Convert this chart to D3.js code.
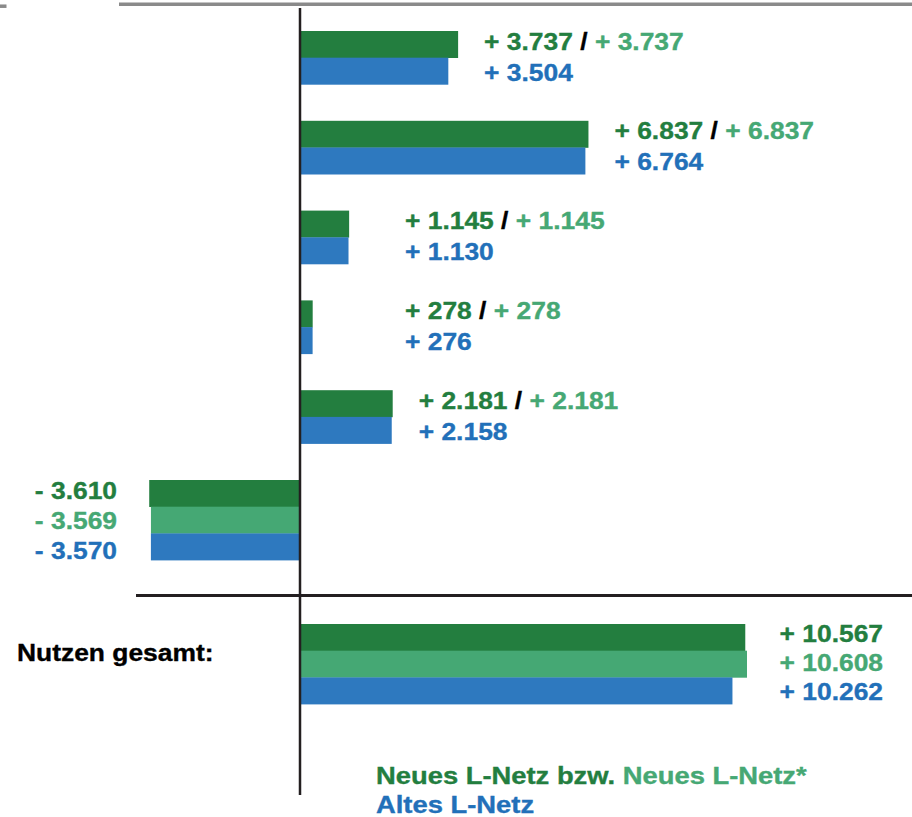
<!DOCTYPE html>
<html>
<head>
<meta charset="utf-8">
<script src="https://cdn.jsdelivr.net/npm/d3@7"></script>
<style>
html,body{margin:0;padding:0;background:#fff;}
svg{display:block;}
text{font-family:"Liberation Sans",Arial,Helvetica,sans-serif;font-weight:bold;}
</style>
</head>
<body>
<svg id="chart" width="912" height="817"></svg>
<script>
// ---- data ----
const categories = ["Nutzen 1", "Nutzen 2", "Nutzen 3", "Nutzen 4", "Nutzen 5", "Nutzen 6"];
const neuValues     = [3737, 6837, 1145, 278, 2181, -3610];
const neuStarValues = [3737, 6837, 1145, 278, 2181, -3569];
const altValues     = [3504, 6764, 1130, 276, 2158, -3570];
const totalLabel = "Nutzen gesamt:";
const totalNeu = 10567, totalNeuStar = 10608, totalAlt = 10262;
const legendNeu = "Neues L-Netz bzw. ";
const legendNeuStar = "Neues L-Netz*";
const legendAlt = "Altes L-Netz";

// ---- styles ----
const C = {
  neu: "#237e3f", neuStar: "#45a874", alt: "#2e79bf",
  neuText: "#237e3f", neuStarText: "#46a874", altText: "#2270b9",
  axis: "#231f20", top: "#8a8a8a"
};
const SX = 1.1;           // horizontal stretch of the labels
const FS = 24;
const barH = 26.7;
const rowGap = 30;

const svg = d3.select("#chart");
const loc = d3.formatLocale({decimal: ",", thousands: ".", grouping: [3], currency: ["", ""]});
const fmt = loc.format(",d");
const signed = v => (v >= 0 ? "+ " : "- ") + fmt(Math.abs(v));

// ---- scales ----
const x = d3.scaleLinear().domain([0, Math.max(totalNeu, totalNeuStar, totalAlt)]).range([301, 747]);
const y = d3.scalePoint().domain(categories).range([31, 480]);
const yTotal = d3.scalePoint().domain([totalLabel]).range([624, 624]);

// ---- frame lines ----
svg.append("line").attr("x1", 119).attr("x2", 912).attr("y1", 4.3).attr("y2", 4.3)
  .attr("stroke", C.top).attr("stroke-width", 3.5);
svg.append("line").attr("x1", 0).attr("x2", 6.5).attr("y1", 6.2).attr("y2", 6.2)
  .attr("stroke", C.top).attr("stroke-width", 3.5);

// ---- bars ----
function seriesFor(i) {
  const s = [{v: neuValues[i], c: C.neu, t: C.neuText}];
  if (neuStarValues[i] !== neuValues[i]) s.push({v: neuStarValues[i], c: C.neuStar, t: C.neuStarText});
  s.push({v: altValues[i], c: C.alt, t: C.altText});
  return s;
}

function label(sel) {
  return sel.attr("font-size", FS).attr("stroke-width", 0.35);
}

categories.forEach((cat, i) => {
  const top = y(cat);
  const s = seriesFor(i);
  const g = svg.append("g");
  g.selectAll("rect").data(s).join("rect")
    .attr("x", d => Math.min(x(0), x(d.v)))
    .attr("width", d => Math.abs(x(d.v) - x(0)))
    .attr("y", (d, j) => top + j * barH)
    .attr("height", barH + 0.3)
    .attr("fill", d => d.c);

  if (s.length === 2) {
    const lx = Math.max(x(Math.max(neuValues[i], altValues[i])) + 26, 405);
    const t1 = label(g.append("text"))
      .attr("transform", `translate(${lx},${top + 18.5}) scale(${SX},1)`);
    t1.append("tspan").attr("fill", C.neuText).attr("stroke", C.neuText).text(signed(neuValues[i]));
    t1.append("tspan").attr("fill", "#000").attr("stroke", "#000").text(" / ");
    t1.append("tspan").attr("fill", C.neuStarText).attr("stroke", C.neuStarText).text(signed(neuStarValues[i]));
    label(g.append("text"))
      .attr("transform", `translate(${lx},${top + 18.5 + rowGap + 1}) scale(${SX},1)`)
      .attr("fill", C.altText).attr("stroke", C.altText).text(signed(altValues[i]));
  } else {
    s.forEach((d, j) => {
      label(g.append("text"))
        .attr("transform", `translate(117,${top + 19 + j * rowGap}) scale(${SX},1)`)
        .attr("text-anchor", "end")
        .attr("fill", d.t).attr("stroke", d.t).text(signed(d.v));
    });
  }
});

// ---- separator ----
svg.append("line").attr("x1", 136).attr("x2", 912).attr("y1", 595.5).attr("y2", 595.5)
  .attr("stroke", C.axis).attr("stroke-width", 3);

// ---- total ----
const totals = [
  {v: totalNeu, c: C.neu, t: C.neuText},
  {v: totalNeuStar, c: C.neuStar, t: C.neuStarText},
  {v: totalAlt, c: C.alt, t: C.altText}
];
const tTop = yTotal(totalLabel);
const tg = svg.append("g");
tg.selectAll("rect").data(totals).join("rect")
  .attr("x", x(0)).attr("width", d => x(d.v) - x(0))
  .attr("y", (d, j) => tTop + j * barH).attr("height", barH + 0.3)
  .attr("fill", d => d.c);
totals.forEach((d, j) => {
  label(tg.append("text"))
    .attr("transform", `translate(883,${tTop + 18 + j * 29}) scale(${SX},1)`)
    .attr("text-anchor", "end")
    .attr("fill", d.t).attr("stroke", d.t).text(signed(d.v));
});
label(svg.append("text"))
  .attr("transform", `translate(17,661) scale(${SX},1)`)
  .attr("fill", "#000").attr("stroke", "#000").text(totalLabel);

// ---- vertical axis ----
svg.append("line").attr("x1", 300).attr("x2", 300).attr("y1", 8).attr("y2", 795)
  .attr("stroke", C.axis).attr("stroke-width", 2.5);

// ---- legend ----
const lg = svg.append("text")
  .attr("transform", `translate(376,784) scale(1.19,1)`)
  .attr("font-size", 23).attr("stroke-width", 0.35);
lg.append("tspan").attr("fill", C.neuText).attr("stroke", C.neuText).text(legendNeu);
lg.append("tspan").attr("fill", C.neuStarText).attr("stroke", C.neuStarText).text(legendNeuStar);
svg.append("text")
  .attr("transform", `translate(376,813) scale(1.19,1)`)
  .attr("font-size", 23).attr("stroke-width", 0.35)
  .attr("fill", C.altText).attr("stroke", C.altText).text(legendAlt);
</script>
</body>
</html>
